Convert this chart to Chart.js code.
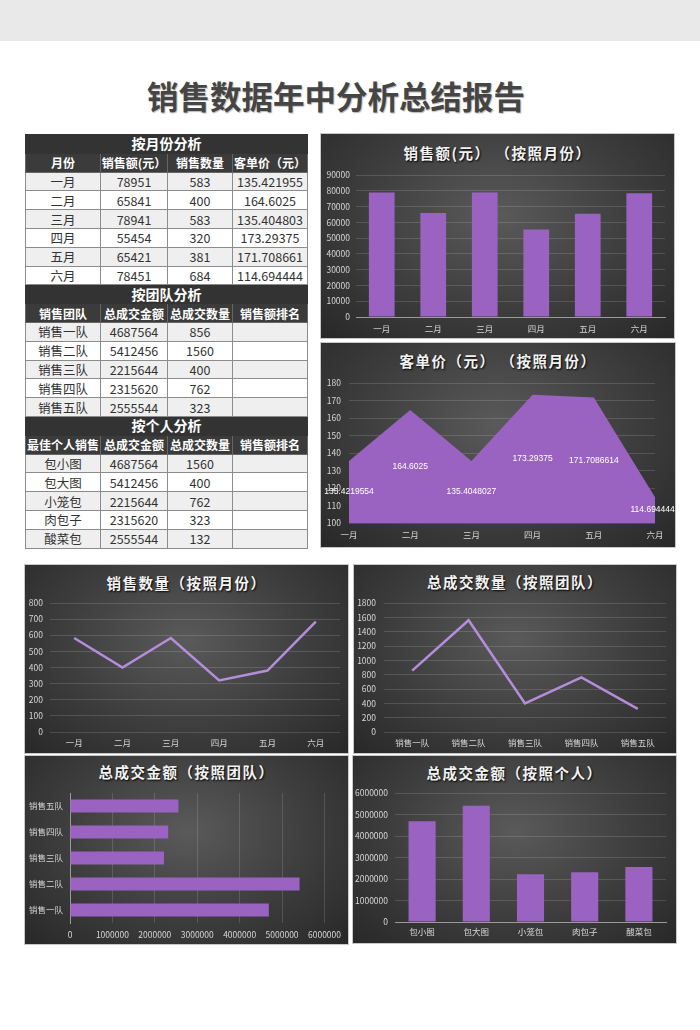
<!DOCTYPE html>
<html>
<head>
<meta charset="utf-8">
<script src="https://cdn.jsdelivr.net/npm/chart.js@4.4.0/dist/chart.umd.min.js"></script>
<style>
  body { margin: 0; width: 700px; height: 1030px; background: #fff; position: relative; font-family: "Noto Sans CJK SC", sans-serif; overflow: hidden; }
  #band { position: absolute; left: 0; top: 0; width: 700px; height: 41px; background: #e9e9e9; }
  h1 { position: absolute; left: 0; top: 73px; width: 672px; margin: 0; text-align: center; font-size: 31.5px; line-height: 44px; font-weight: bold; color: #454545; text-shadow: 1px 1px 1px #bbb; }
  #tbl { position: absolute; left: 25px; top: 134px; width: 282px; border-collapse: collapse; table-layout: fixed; }
  #tbl td { height: 17.8px; padding: 0; border: 1px solid #8c8c8c; text-align: center; font-size: 12.5px; line-height: 15px; color: #333; white-space: nowrap; overflow: hidden; }
  #tbl tr.cap td { background: #333; color: #fff; font-weight: bold; font-size: 14px; border-color: #333; }
  #tbl tr.hd td { background: #3b3b3b; color: #fff; font-weight: bold; font-size: 12px; border-color: #666; }
  #tbl tr.odd td { background: #efefef; }
  #tbl tr.even td { background: #fff; }
  .panel { position: absolute; background: radial-gradient(ellipse at 50% 40%, #5a5a5a 0%, #3d3d3d 55%, #282828 100%); box-shadow: 0 0 0 1px #c8c8c8; }
  .panel canvas { position: absolute; left: 0; top: 0; }
  .ttl { position: absolute; left: 0; width: 100%; text-align: center; color: #f2f2f2; font-size: 14.5px; font-weight: bold; letter-spacing: 1.5px; line-height: 20px; text-shadow: 1px 1px 2px #000; }
</style>
</head>
<body>
<div id="band"></div>
<h1>销售数据年中分析总结报告</h1>
<table id="tbl">
  <colgroup><col style="width:75px"><col style="width:67px"><col style="width:65px"><col style="width:75px"></colgroup>
  <tbody id="tb"></tbody>
</table>

<div class="panel" id="p1" style="left:321px;top:134px;width:353px;height:204px;"><div class="ttl" style="top:9px;">销售额(元） （按照月份）</div><canvas id="c1" width="353" height="204"></canvas></div>
<div class="panel" id="p2" style="left:321px;top:343px;width:354px;height:204px;"><div class="ttl" style="top:8px;">客单价（元） （按照月份）</div><canvas id="c2" width="354" height="204"></canvas></div>
<div class="panel" id="p3" style="left:25px;top:565px;width:323px;height:188px;"><div class="ttl" style="top:8px;">销售数量（按照月份）</div><canvas id="c3" width="323" height="188"></canvas></div>
<div class="panel" id="p4" style="left:354px;top:565px;width:322px;height:188px;"><div class="ttl" style="top:7px;">总成交数量（按照团队）</div><canvas id="c4" width="322" height="188"></canvas></div>
<div class="panel" id="p5" style="left:25px;top:756px;width:323px;height:188px;"><div class="ttl" style="top:6px;">总成交金额（按照团队）</div><canvas id="c5" width="323" height="188"></canvas></div>
<div class="panel" id="p6" style="left:353px;top:756px;width:323px;height:187px;"><div class="ttl" style="top:7px;">总成交金额（按照个人）</div><canvas id="c6" width="323" height="187"></canvas></div>

<script>
// month data
const months = ['一月', '二月', '三月', '四月', '五月', '六月'];
const monthSales = [78951, 65841, 78941, 55454, 65421, 78451];
const monthQty = [583, 400, 583, 320, 381, 684];
const monthPrice = [135.4219554, 164.6025, 135.4048027, 173.29375, 171.7086614, 114.6944444];

// team data
const teams = ['销售一队', '销售二队', '销售三队', '销售四队', '销售五队'];
const teamAmount = [4687564, 5412456, 2215644, 2315620, 2555544];
const teamQty = [856, 1560, 400, 762, 323];

// person data
const people = ['包小图', '包大图', '小笼包', '肉包子', '酸菜包'];
const personAmount = [4687564, 5412456, 2215644, 2315620, 2555544];
const personQty = [1560, 400, 762, 323, 132];

// table headers
const monthHead = ['月份', '销售额(元）', '销售数量', '客单价（元）'];
const teamHead = ['销售团队', '总成交金额', '总成交数量', '销售额排名'];
const personHead = ['最佳个人销售', '总成交金额', '总成交数量', '销售额排名'];

// build table
const tb = document.getElementById('tb');
function addRow(cls, cells) {
  const tr = document.createElement('tr');
  tr.className = cls;
  cells.forEach(c => {
    const td = document.createElement('td');
    td.textContent = c;
    tr.appendChild(td);
  });
  if (cells.length === 1) tr.firstChild.colSpan = 4;
  tb.appendChild(tr);
}
const fmt = v => String(Number(v.toPrecision(9)));
addRow('cap', ['按月份分析']);
addRow('hd', monthHead);
months.forEach((m, i) => addRow(i % 2 ? 'even' : 'odd', [m, monthSales[i], monthQty[i], fmt(monthPrice[i])]));
addRow('cap', ['按团队分析']);
addRow('hd', teamHead);
teams.forEach((t, i) => addRow(i % 2 ? 'even' : 'odd', [t, teamAmount[i], teamQty[i], '']));
addRow('cap', ['按个人分析']);
addRow('hd', personHead);
people.forEach((p, i) => addRow(i % 2 ? 'even' : 'odd', [p, personAmount[i], personQty[i], '']));

// chart styling
const PURPLE = '#9b63c1';
const LINE = '#b48ddb';
const GRID = 'rgba(255,255,255,0.14)';
const TICK = { color: '#d6d6d6', font: { family: '"Noto Sans CJK SC", sans-serif', size: 8.5 } };

function valueAxis(min, max, step, width, pad) {
  return {
    min: min, max: max,
    ticks: Object.assign({ stepSize: step, padding: pad, callback: v => v }, TICK),
    grid: { color: GRID, drawTicks: false },
    border: { display: false },
    afterFit: s => { s.width = width; }
  };
}
function catAxis(pad, offset, border) {
  return {
    offset: offset,
    ticks: Object.assign({ padding: pad, autoSkip: false, maxRotation: 0 }, TICK),
    grid: { display: false, drawTicks: false },
    border: border ? { display: true, color: '#9a9a9a' } : { display: false },
    afterFit: s => { s.height = 20; }
  };
}
function baseOpts(padding) {
  return {
    responsive: false, animation: false, devicePixelRatio: 1,
    layout: { padding: padding },
    plugins: { legend: { display: false }, tooltip: { enabled: false } }
  };
}

// 销售额 bar chart
new Chart(document.getElementById('c1'), {
  type: 'bar',
  data: { labels: months, datasets: [{ data: monthSales, backgroundColor: PURPLE, barPercentage: 0.5, categoryPercentage: 1 }] },
  options: Object.assign(baseOpts({ top: 41, left: 0, right: 9, bottom: 1 }), {
    scales: { x: catAxis(7, true, true), y: valueAxis(0, 90000, 10000, 35, 6) }
  })
});

// 客单价 area chart with labels at mid height
const midLabels = {
  id: 'midLabels',
  afterDatasetsDraw(chart) {
    const ctx = chart.ctx, ys = chart.scales.y;
    const meta = chart.getDatasetMeta(0);
    ctx.save();
    ctx.fillStyle = '#ffffff';
    ctx.font = '8.5px "Liberation Sans", sans-serif';
    ctx.textAlign = 'center';
    ctx.textBaseline = 'middle';
    meta.data.forEach((pt, i) => {
      const v = chart.data.datasets[0].data[i];
      ctx.fillText(String(v), pt.x, ys.getPixelForValue((v + ys.min) / 2));
    });
    ctx.restore();
  }
};
new Chart(document.getElementById('c2'), {
  type: 'line',
  data: { labels: months, datasets: [{ data: monthPrice, fill: 'start', backgroundColor: PURPLE, borderWidth: 0, pointRadius: 0, tension: 0 }] },
  options: Object.assign(baseOpts({ top: 40, left: 0, right: 20, bottom: 4 }), {
    scales: { x: catAxis(7, false, false), y: valueAxis(100, 180, 10, 28, 8) }
  }),
  plugins: [midLabels]
});

// 销售数量 line chart
new Chart(document.getElementById('c3'), {
  type: 'line',
  data: { labels: months, datasets: [{ data: monthQty, borderColor: LINE, borderWidth: 2.5, pointRadius: 0, tension: 0 }] },
  options: Object.assign(baseOpts({ top: 38, left: 0, right: 8, bottom: 1 }), {
    scales: { x: catAxis(6, true, false), y: valueAxis(0, 800, 100, 25, 7) }
  })
});

// 总成交数量 line chart
new Chart(document.getElementById('c4'), {
  type: 'line',
  data: { labels: teams, datasets: [{ data: teamQty, borderColor: LINE, borderWidth: 2.5, pointRadius: 0, tension: 0 }] },
  options: Object.assign(baseOpts({ top: 38, left: 0, right: 10, bottom: 1 }), {
    scales: { x: catAxis(6, true, false), y: valueAxis(0, 1800, 200, 30, 8) }
  })
});

// 总成交金额 by team horizontal bar
new Chart(document.getElementById('c5'), {
  type: 'bar',
  data: { labels: teams, datasets: [{ data: teamAmount, backgroundColor: PURPLE, barPercentage: 0.5, categoryPercentage: 1 }] },
  options: Object.assign(baseOpts({ top: 37, left: 0, right: 23, bottom: 1 }), {
    indexAxis: 'y',
    scales: {
      x: {
        min: 0, max: 6000000,
        ticks: Object.assign({ stepSize: 1000000, padding: 7, callback: v => v, maxRotation: 0 }, TICK),
        grid: { color: GRID, drawTicks: false },
        border: { display: false },
        afterFit: s => { s.height = 20; }
      },
      y: {
        reverse: true,
        ticks: Object.assign({ padding: 7, autoSkip: false }, TICK),
        grid: { display: false, drawTicks: false },
        border: { display: true, color: '#9a9a9a' },
        afterFit: s => { s.width = 45; }
      }
    }
  })
});

// 总成交金额 by person bar
new Chart(document.getElementById('c6'), {
  type: 'bar',
  data: { labels: people, datasets: [{ data: personAmount, backgroundColor: PURPLE, barPercentage: 0.5, categoryPercentage: 1 }] },
  options: Object.assign(baseOpts({ top: 37, left: 0, right: 10, bottom: 1 }), {
    scales: { x: catAxis(5, true, true), y: valueAxis(0, 6000000, 1000000, 42, 7) }
  })
});
</script>
</body>
</html>
